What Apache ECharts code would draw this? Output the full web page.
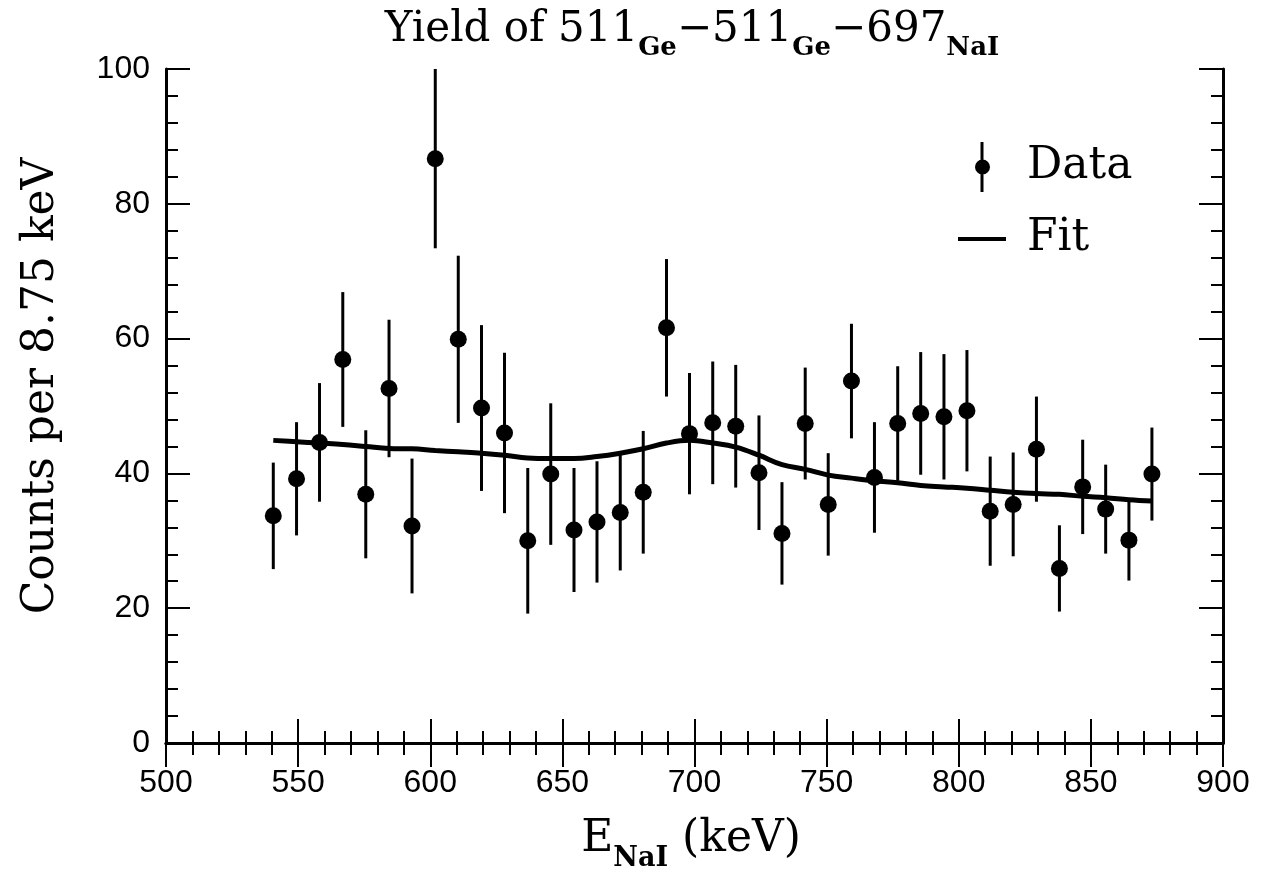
<!DOCTYPE html>
<html><head><meta charset="utf-8">
<script src="https://cdn.jsdelivr.net/npm/echarts@6/dist/echarts.min.js"></script>
<style>html,body{margin:0;padding:0;background:#fff}#c{width:1262px;height:894px}</style>
</head><body><div id="c"></div>
<script>
// Bin centres (keV)
const energies = [540.6, 549.4, 558.1, 566.9, 575.6, 584.4, 593.1, 601.9, 610.6, 619.4,
  628.1, 636.9, 645.6, 654.4, 663.1, 671.9, 680.6, 689.4, 698.1, 706.9,
  715.6, 724.4, 733.1, 741.9, 750.6, 759.4, 768.1, 776.9, 785.6, 794.4,
  803.1, 811.9, 820.6, 829.4, 838.1, 846.9, 855.6, 864.4, 873.1];
// Counts per 8.75 keV
const counts = [33.7, 39.2, 44.6, 56.9, 36.9, 52.6, 32.2, 86.7, 59.9, 49.7,
  46.0, 30.0, 39.9, 31.6, 32.8, 34.2, 37.2, 61.6, 45.9, 47.5,
  47.0, 40.1, 31.1, 47.4, 35.4, 53.7, 39.4, 47.4, 48.9, 48.4,
  49.3, 34.4, 35.4, 43.6, 25.9, 38.0, 34.7, 30.1, 39.9];
// Symmetric error half-lengths
const errors = [7.9, 8.4, 8.8, 10.0, 9.5, 10.2, 10.0, 13.3, 12.4, 12.3,
  11.9, 10.8, 10.5, 9.2, 9.0, 8.6, 9.1, 10.2, 9.0, 9.1,
  9.1, 8.5, 7.6, 8.3, 7.6, 8.5, 8.2, 8.5, 9.1, 9.3,
  9.0, 8.1, 7.7, 7.8, 6.4, 7.0, 6.6, 6.0, 6.9];
// Fit curve values at the bin centres
const fitValues = [44.9, 44.7, 44.5, 44.3, 44.0, 43.7, 43.65, 43.4, 43.2, 43.0,
  42.7, 42.3, 42.2, 42.2, 42.5, 43.0, 43.65, 44.5, 44.9, 44.5,
  43.9, 42.7, 41.3, 40.6, 39.75, 39.3, 38.9, 38.6, 38.2, 38.0,
  37.8, 37.5, 37.2, 37.0, 36.9, 36.6, 36.4, 36.1, 35.9];

const titleParts = ['Yield of 511', 'Ge', '\u2212511', 'Ge', '\u2212697', 'NaI'];
const yTitle = 'Counts per 8.75 keV';
const xTitleParts = ['E', 'NaI', ' (keV)'];

const SERIF = '"DejaVu Serif"';
const SANS = '"Liberation Sans"';

const pointData = energies.map((e, i) => [e, counts[i]]);
const errData = energies.map((e, i) => [e, counts[i] - errors[i], counts[i] + errors[i]]);
const fitData = energies.map((e, i) => [e, fitValues[i]]);

const tickCommon = {
  axisLine: { show: true, lineStyle: { color: '#000', width: 3 } },
  axisTick: { show: true, inside: true, length: 24, lineStyle: { color: '#000', width: 2 } },
  minorTick: { show: true, splitNumber: 5, length: 12, lineStyle: { color: '#000', width: 2 } },
  splitLine: { show: false },
  minorSplitLine: { show: false }
};

function xAxisDef(pos, showLabel) {
  return Object.assign({
    type: 'value', min: 500, max: 900, interval: 50, position: pos,
    axisLabel: { show: showLabel, fontSize: 32, color: '#000', margin: 24, fontFamily: SANS }
  }, tickCommon);
}
function yAxisDef(pos, showLabel) {
  return Object.assign({
    type: 'value', min: 0, max: 100, interval: 20, position: pos,
    axisLabel: { show: showLabel, fontSize: 32, color: '#000', margin: 16, fontFamily: SANS }
  }, tickCommon);
}

const chart = echarts.init(document.getElementById('c'), null, { renderer: 'canvas' });
chart.setOption({
  animation: false,
  backgroundColor: '#fff',
  grid: { left: 166, right: 39, top: 69, bottom: 151 },
  xAxis: [xAxisDef('bottom', true), xAxisDef('top', false)],
  yAxis: [yAxisDef('left', true), yAxisDef('right', false)],
  legend: [
    {
      data: [{ name: 'Data', icon: 'path://M5.5 0H8.5V50H5.5Z M15 25A7.5 7.5 0 1 1 0 25A7.5 7.5 0 1 1 15 25Z' }],
      left: 975, top: 142, itemWidth: 15, itemHeight: 50, padding: 0, selectedMode: false,
      textStyle: { fontFamily: SERIF, fontSize: 44, color: '#000', padding: [0, 0, 0, 32] }
    },
    {
      data: [{ name: 'Fit', icon: 'rect' }],
      left: 958, top: 217, itemWidth: 48, itemHeight: 4, padding: 0, selectedMode: false,
      textStyle: { fontFamily: SERIF, fontSize: 44, lineHeight: 44, color: '#000', padding: [0, 0, 0, 16] }
    }
  ],
  graphic: [
    {
      type: 'text', x: 692, y: 40,
      style: {
        text: '{a|' + titleParts[0] + '}{s|' + titleParts[1] + '}{a|' + titleParts[2] + '}{s|' + titleParts[3] + '}{a|' + titleParts[4] + '}{s|' + titleParts[5] + '}',
        fill: '#000', align: 'center', verticalAlign: 'middle',
        rich: {
          a: { fontFamily: SERIF, fontSize: 42, lineHeight: 42, padding: [0, 0, 10, 0], verticalAlign: 'bottom', fill: '#000' },
          s: { fontFamily: SERIF, fontSize: 26, fontWeight: 'bold', lineHeight: 27, verticalAlign: 'bottom', fill: '#000' }
        }
      }
    },
    {
      type: 'text', x: 42, y: 386, rotation: Math.PI / 2,
      style: { text: yTitle, font: '44px ' + SERIF, fill: '#000', align: 'center', verticalAlign: 'middle' }
    },
    {
      type: 'text', x: 691, y: 850,
      style: {
        text: '{a|' + xTitleParts[0] + '}{s|' + xTitleParts[1] + '}{a|' + xTitleParts[2] + '}',
        fill: '#000', align: 'center', verticalAlign: 'middle',
        rich: {
          a: { fontFamily: SERIF, fontSize: 44, lineHeight: 44, padding: [0, 0, 10, 0], verticalAlign: 'bottom', fill: '#000' },
          s: { fontFamily: SERIF, fontSize: 27, fontWeight: 'bold', lineHeight: 28, verticalAlign: 'bottom', fill: '#000' }
        }
      }
    }
  ],
  series: [
    {
      name: 'Fit', type: 'line', data: fitData, smooth: 0.4, showSymbol: false,
      lineStyle: { color: '#000', width: 5 }, itemStyle: { color: '#000' }, z: 2
    },
    {
      name: 'Data errors', type: 'custom', data: errData, clip: true, z: 3,
      encode: { x: 0, y: [1, 2] },
      renderItem: function (params, api) {
        const x = api.value(0);
        const p1 = api.coord([x, api.value(1)]);
        const p2 = api.coord([x, api.value(2)]);
        return { type: 'line', shape: { x1: p1[0], y1: p1[1], x2: p2[0], y2: p2[1] }, style: { stroke: '#000', lineWidth: 3 } };
      }
    },
    {
      name: 'Data', type: 'scatter', data: pointData, symbol: 'circle', symbolSize: 17,
      itemStyle: { color: '#000', opacity: 1 }, z: 4
    }
  ]
});
</script>
</body></html>
